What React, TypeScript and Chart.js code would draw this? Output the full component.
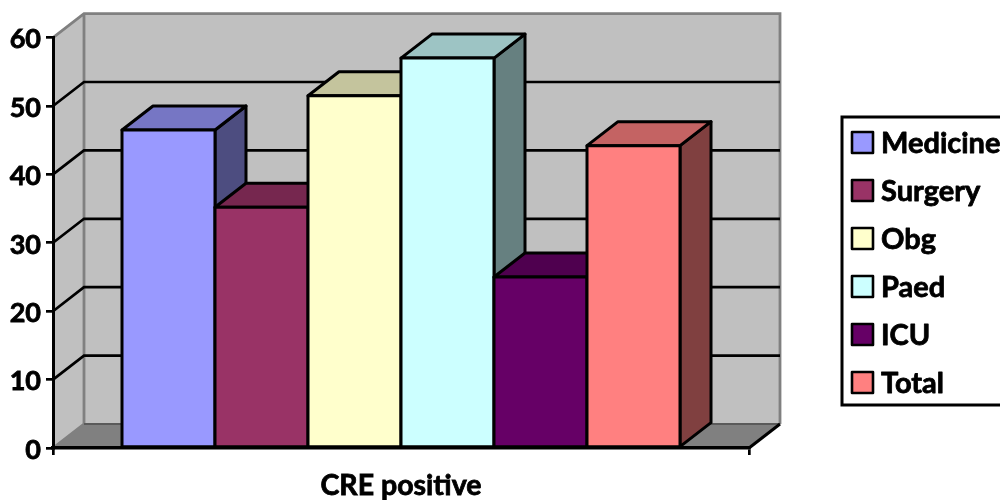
import React, { useEffect, useRef } from "react";
import { Chart, registerables } from "chart.js";

Chart.register(...registerables);

const categories = ["CRE positive"];
const seriesNames = ["Medicine", "Surgery", "Obg", "Paed", "ICU", "Total"];
const seriesValues = [46.5, 35.2, 51.5, 57, 25, 44.2];
const seriesColors = ["#9999FF", "#993366", "#FFFFCC", "#CCFFFF", "#660066", "#FF8080"];
const yTicks = { min: 0, max: 60, step: 10 };

const FONT = "Lato, Carlito, sans-serif";
const DEPTH_X = 31;
const DEPTH_Y = 24;
const EDGE = 3;

function shade(hex: string, f: number) {
  const n = parseInt(hex.slice(1), 16);
  const r = Math.round(((n >> 16) & 255) * f);
  const g = Math.round(((n >> 8) & 255) * f);
  const b = Math.round((n & 255) * f);
  return `rgb(${r},${g},${b})`;
}

function poly(ctx: CanvasRenderingContext2D, pts: number[][], fill: string | null, stroke: string | null, lw = EDGE) {
  ctx.beginPath();
  pts.forEach((p, i) => (i ? ctx.lineTo(p[0], p[1]) : ctx.moveTo(p[0], p[1])));
  ctx.closePath();
  if (fill) {
    ctx.fillStyle = fill;
    ctx.fill();
  }
  if (stroke) {
    ctx.strokeStyle = stroke;
    ctx.lineWidth = lw;
    ctx.lineJoin = "round";
    ctx.stroke();
  }
}

const wallsPlugin = {
  id: "walls3d",
  beforeDraw(chart: any) {
    const { ctx, scales } = chart;
    const x = scales.x;
    const y = scales.y;
    const l = x.left;
    const r = x.right;
    const b = y.getPixelForValue(yTicks.min);
    const t = y.getPixelForValue(yTicks.max);
    ctx.save();
    // floor
    poly(ctx, [[l, b], [l + DEPTH_X, b - DEPTH_Y], [r + DEPTH_X, b - DEPTH_Y], [r, b]], "#808080", null);
    // side wall
    poly(ctx, [[l, b], [l, t], [l + DEPTH_X, t - DEPTH_Y], [l + DEPTH_X, b - DEPTH_Y]], "#C0C0C0", null);
    // back wall
    ctx.fillStyle = "#C0C0C0";
    ctx.fillRect(l + DEPTH_X, t - DEPTH_Y, r - l, b - t);
    // wall edges
    ctx.strokeStyle = "#808080";
    ctx.lineWidth = 2.8;
    ctx.lineCap = "butt";
    ctx.beginPath();
    ctx.moveTo(l, t);
    ctx.lineTo(l + DEPTH_X, t - DEPTH_Y);
    ctx.lineTo(r + DEPTH_X, t - DEPTH_Y);
    ctx.lineTo(r + DEPTH_X, b - DEPTH_Y);
    ctx.moveTo(l + DEPTH_X, t - DEPTH_Y);
    ctx.lineTo(l + DEPTH_X, b - DEPTH_Y);
    ctx.moveTo(l, b);
    ctx.lineTo(l + DEPTH_X, b - DEPTH_Y);
    ctx.stroke();
    ctx.strokeStyle = "#5A5A5A";
    ctx.lineWidth = 2;
    ctx.beginPath();
    ctx.moveTo(l + DEPTH_X, b - DEPTH_Y);
    ctx.lineTo(r + DEPTH_X, b - DEPTH_Y);
    ctx.stroke();
    // floor front-right edge
    ctx.strokeStyle = "#000";
    ctx.lineWidth = EDGE;
    ctx.beginPath();
    ctx.moveTo(r, b);
    ctx.lineTo(r + DEPTH_X, b - DEPTH_Y);
    ctx.stroke();
    // gridlines
    ctx.lineWidth = 2.7;
    y.ticks.forEach((tick: any) => {
      if (tick.value === yTicks.min || tick.value === yTicks.max) return;
      const py = y.getPixelForValue(tick.value);
      ctx.beginPath();
      ctx.moveTo(l, py);
      ctx.lineTo(l + DEPTH_X, py - DEPTH_Y);
      ctx.lineTo(r + DEPTH_X, py - DEPTH_Y);
      ctx.stroke();
    });
    ctx.restore();
  },
  beforeDatasetsDraw(chart: any) {
    const { ctx } = chart;
    ctx.save();
    chart.data.datasets.forEach((ds: any, i: number) => {
      const meta = chart.getDatasetMeta(i);
      meta.data.forEach((el: any) => {
        const { x, y, base, width } = el.getProps(["x", "y", "base", "width"], true);
        const left = Math.round(x - width / 2);
        const right = Math.round(x + width / 2);
        const color = ds.backgroundColor;
        // side face
        poly(ctx, [[right, y], [right + DEPTH_X, y - DEPTH_Y], [right + DEPTH_X, base - DEPTH_Y], [right, base]], shade(color, 0.5), "#000");
        // top face
        poly(ctx, [[left, y], [left + DEPTH_X, y - DEPTH_Y], [right + DEPTH_X, y - DEPTH_Y], [right, y]], shade(color, 0.77), "#000");
        // front face: the bar element itself, then its outline
        el.draw(ctx);
        ctx.strokeStyle = "#000";
        ctx.lineWidth = EDGE;
        ctx.lineJoin = "round";
        ctx.strokeRect(left, y, right - left, base - y);
      });
    });
    ctx.restore();
    return false;
  },
  afterDraw(chart: any) {
    const { ctx } = chart;
    ctx.save();
    // legend frame
    ctx.fillStyle = "#FFF";
    ctx.strokeStyle = "#000";
    ctx.lineWidth = 3;
    ctx.fillRect(842, 117, 170, 288);
    ctx.strokeRect(842, 117, 170, 288);
    ctx.font = `bold 29px ${FONT}`;
    ctx.textBaseline = "middle";
    ctx.textAlign = "left";
    ctx.lineJoin = "round";
    chart.data.datasets.forEach((ds: any, i: number) => {
      const cy = 142.5 + i * 48;
      ctx.fillStyle = ds.backgroundColor;
      ctx.lineWidth = 2.6;
      ctx.fillRect(852, cy - 10.5, 21, 21);
      ctx.strokeRect(852, cy - 10.5, 21, 21);
      ctx.fillStyle = "#000";
      ctx.lineWidth = 0.8;
      ctx.strokeText(ds.label, 881, cy + 1);
      ctx.fillText(ds.label, 881, cy + 1);
    });
    ctx.restore();
  },
};

export default function App() {
  const ref = useRef<HTMLCanvasElement | null>(null);
  useEffect(() => {
    document.body.style.margin = "0";
    const chart = new Chart(ref.current as HTMLCanvasElement, {
      type: "bar",
      data: {
        labels: categories,
        datasets: seriesNames.map((name, i) => ({
          label: name,
          data: [seriesValues[i]],
          backgroundColor: seriesColors[i],
          borderWidth: 0,
          categoryPercentage: 0.802,
          barPercentage: 1,
        })),
      },
      options: {
        responsive: false,
        animation: false,
        layout: { padding: { top: 37.6, right: 251, left: 0, bottom: 0 } },
        plugins: { legend: { display: false }, tooltip: { enabled: false }, title: { display: false } },
        scales: {
          x: {
            afterFit: (s: any) => {
              s.height = 52;
            },
            grid: { drawOnChartArea: false, drawTicks: true, tickLength: 7, color: "#000", lineWidth: 2.7 },
            border: { color: "#000", width: 3.4 },
            ticks: {
              color: "#000",
              font: { family: FONT, size: 28.5, weight: "bold" },
              padding: 14,
              maxRotation: 0,
              textStrokeColor: "#000",
              textStrokeWidth: 0.8,
            },
          },
          y: {
            min: yTicks.min,
            max: yTicks.max,
            afterFit: (s: any) => {
              s.width = 53;
            },
            grid: { drawOnChartArea: false, drawTicks: true, tickLength: 7, color: "#000", lineWidth: 2.7 },
            border: { color: "#000", width: 3 },
            ticks: {
              stepSize: yTicks.step,
              color: "#000",
              font: { family: FONT, size: 27, weight: "bold" },
              padding: 5,
              labelOffset: 2,
              textStrokeColor: "#000",
              textStrokeWidth: 0.8,
            },
          },
        },
      },
      plugins: [wallsPlugin],
    } as any);
    return () => chart.destroy();
  }, []);
  return <canvas ref={ref} width={1000} height={500} style={{ display: "block" }} />;
}
